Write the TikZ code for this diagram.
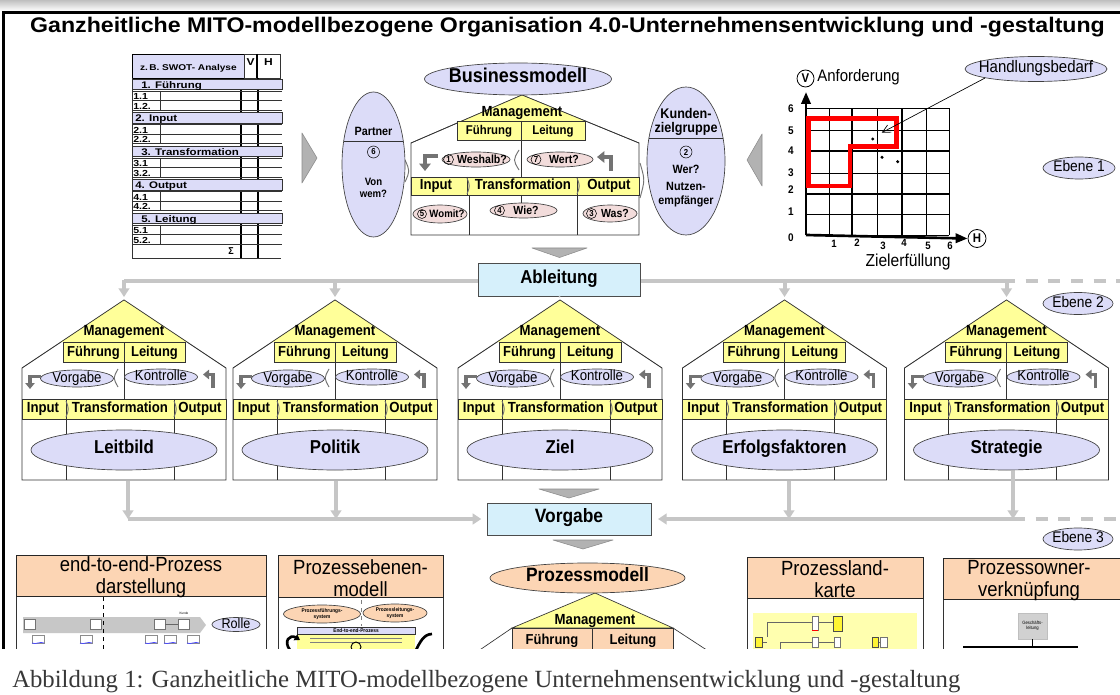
\documentclass[tikz,border=0pt]{standalone}
\usepackage{graphicx}
\usepackage{fontspec}
\setmainfont{Liberation Sans}[FakeStretch=0.9]
\newfontfamily\widefont{Liberation Sans}[FakeStretch=1.2]
\newfontfamily\capfont{Liberation Serif}
\usetikzlibrary{shapes.geometric,arrows.meta}
\definecolor{lav}{RGB}{220,220,248}
\definecolor{yel}{RGB}{255,255,153}
\definecolor{pinkc}{RGB}{242,220,219}
\definecolor{orng}{RGB}{252,213,180}
\definecolor{lblue}{RGB}{214,240,251}
\definecolor{lgray}{RGB}{198,198,198}
\definecolor{chev}{RGB}{178,178,178}
\definecolor{paley}{RGB}{255,255,175}
\newcommand\fs[1]{\fontsize{#1}{\dimexpr #1pt*6/5\relax}\selectfont}
\tikzset{
  hl/.style={draw=black!80, line width=0.5pt},
  ellbox/.style 2 args={ellipse, draw=black!75, line width=0.5pt, minimum width=#1*0.75pt, minimum height=#2*0.75pt, inner sep=0pt},
  lavell/.style 2 args={ellbox={#1}{#2}, fill=lav},
  pinkell/.style 2 args={ellbox={#1}{#2}, fill=pinkc},
  orell/.style 2 args={ellbox={#1}{#2}, fill=orng},
  tx/.style={inner sep=0pt, font=\fs{#1}\bfseries, text height=0.72em, text depth=0.16em},
  tr/.style={inner sep=0pt, font=\fs{#1}, text height=0.72em, text depth=0.16em},
  tw/.style={inner sep=0pt, font=\fs{#1}\widefont\bfseries, text height=0.72em, text depth=0.16em},
  gl/.style={draw=lgray, line width=3pt},
  garrow/.style={gl, -{Triangle[length=6.5pt,width=8pt]}},
  chevron/.style={fill=chev, draw=black!45, line width=0.4pt, line join=round},
  bent/.style={draw=black!55, line width=2.8pt, -{Triangle[length=4.5pt,width=7pt]}},
  brk/.style={draw=black!55, line width=0.7pt},
  numc/.style={circle, draw=black, line width=0.4pt, inner sep=0pt, minimum size=#1*0.75pt, font=\fs{6.5}\bfseries},
  hdr/.style={draw=black!85, line width=0.6pt, fill=orng},
  hdrtext/.style={inner sep=0pt, align=center, font=\fontsize{15.4}{16.5}\selectfont},
}
\newcommand\mhouse[3]{%
\begin{scope}[shift={(#2,0)}]
 \coordinate (#1-top) at (0,297);
 \draw[hl, fill=white] (-102,480) -- (-102,368) -- (0,300) -- (102,368) -- (102,480) -- cycle;
 \fill[yel] (0,300) -- (-63,342) -- (63,342) -- cycle;
 \draw[hl] (-102,368) -- (0,300) -- (102,368);
 \node[tx=11] (#1-mg) at (0,332) {Management};
 \draw[hl, fill=yel] (-61,342) rectangle (61,362);
 \draw[hl] (0,342) -- (0,399);
 \node[tx=10.8] (#1-fu) at (-30.5,352.5) {Führung};
 \node[tx=10.8] (#1-le) at (30.5,352.5) {Leitung};
 \node[lavell={73}{17}] (#1-vg) at (-47,378.5) {};
 \node[tr=11] (#1-vgt) at (#1-vg) {Vorgabe};
 \node[lavell={73}{16}] (#1-ko) at (37,377) {};
 \node[tr=11] (#1-kot) at (#1-ko) {Kontrolle};
 \draw[bent] (-83,376.5) -- (-94,376.5) -- (-94,389);
 \draw[bent] (89,388) -- (89,374.5) -- (79,374.5);
 \draw[brk] (-6,369) .. controls (-11,378) .. (-6,387);
 \draw[hl, fill=yel] (-102,399) rectangle (102,419);
 \draw[hl] (-58,399) -- (-58,480) (50,399) -- (50,480);
 \draw[brk] (-58,401) .. controls (-55,409) .. (-58,417);
 \draw[brk] (50,401) .. controls (53,409) .. (50,417);
 \node[tx=11] (#1-in) at (-81,409) {Input};
 \node[tx=11] (#1-tr) at (-4,409) {Transformation};
 \node[tx=11] (#1-ou) at (76,409) {Output};
 \node[lavell={186}{40}] (#1-lb) at (0,450) {};
 \node[tx=14] (#1-lbt) at (#1-lb) {#3};
\end{scope}}
\begin{document}
\begin{tikzpicture}[x=0.75pt,y=-0.75pt]
\useasboundingbox (0,0) rectangle (1120,695);
\fill[white] (0,0) rectangle (1120,695);
\shade[top color=black!25, bottom color=white] (0,0) rectangle (1120,11);
\begin{scope}
\clip (0,0) rectangle (1120,648);
\draw[line width=2pt] (3.5,650) -- (3.5,12.5) -- (1122,12.5);
\node[anchor=base, inner sep=0pt] (title) at (567.5,33) {\resizebox{806pt}{11.5pt}{\bfseries Ganzheitliche MITO-modellbezogene Organisation 4.0-Unternehmensentwicklung und -gestaltung}};

% ---------------- SWOT table
\node[draw=black, line width=0.5pt, fill=lav, minimum width=112*0.75pt, minimum height=24*0.75pt, inner sep=0pt, anchor=north west] (swh) at (132,54) {};
\node[tw=6.3] (swht) at (swh.center) {z.\,B. SWOT- Analyse};
\draw[hl] (244,54) rectangle (280,78);
\draw[line width=1pt] (257,54) -- (257,78);
\node[tw=7.5] (swv) at (250.5,62) {V};
\node[tw=7.5] (swhh) at (268.5,62) {H};
\draw[hl] (132,78) -- (132,258) -- (281,258);
\draw[line width=1.1pt] (241,78) -- (241,258) (258,78) -- (258,258);
\foreach \k/\lab/\lx/\ra/\rb in {0/{1.  Führung}/141/1.1/1.2., 1/{2. Input}/135/2.1/2.2., 2/{3. Transformation}/141/3.1/3.2., 3/{4. Output}/135/4.1/4.2., 4/{5. Leitung}/141/5.1/5.2.}{
  \pgfmathsetmacro\yz{79+33.5*\k}
  \draw[hl, fill=lav] (132,\yz) rectangle (282,\yz+10.5);
  \node[anchor=west, tw=7.2] (swb\k) at (\lx,\yz+5.5) {\lab};
  \draw[hl] (132,\yz+12) -- (282,\yz+12);
  \draw[hl] (132,\yz+21.5) -- (282,\yz+21.5);
  \draw[hl] (132,\yz+31) -- (282,\yz+31);
  \draw[hl] (160,\yz+12) -- (160,\yz+31);
  \node[anchor=west, tw=6.6] (swr\k-a) at (133,\yz+17) {\ra};
  \node[anchor=west, tw=6.6] (swr\k-b) at (133,\yz+26.5) {\rb};
}
\node[tx=7.5] (sigma) at (231,251) {Σ};

% side triangles
\draw[chevron] (302,133) -- (317,158) -- (302,183) -- cycle;
\draw[chevron] (762,134) -- (747,160) -- (762,186) -- cycle;

% ---------------- Business house
\draw[hl, fill=white] (411,235) -- (411,143) -- (522,95) -- (639,143) -- (639,235) -- cycle;
\fill[yel] (522,95) -- (462,121) -- (585,121) -- cycle;
\draw[hl] (411,143) -- (522,95) -- (639,143);
\node[lavell={187}{32}] (bm) at (518,79) {};
\node[tx=15] (bmt) at (bm) {Businessmodell};
\node[tx=11] (bmmg) at (522,113) {Management};
\draw[hl, fill=yel] (457,121) rectangle (585,140);
\draw[hl] (521,121) -- (521,177);
\node[tx=9.5] (bmfu) at (489,130.5) {Führung};
\node[tx=9.5] (bmle) at (553,130.5) {Leitung};
\draw[bent, line width=3.4pt, -{Triangle[length=5.5pt,width=8.5pt]}] (438,156) -- (425,156) -- (425,171);
\draw[bent, line width=3.4pt, -{Triangle[length=5.5pt,width=8.5pt]}] (611,171) -- (611,157) -- (597,157);
\draw[brk] (519,150) .. controls (513,160) .. (519,170);
\node[pinkell={68}{15}] (wes) at (476,159.5) {};
\node[numc=10] (n1) at (448.5,159.5) {1};
\node[tx=8.8] (west) at (482,159.5) {Weshalb?};
\node[pinkell={66}{15}] (wert) at (560,159.5) {};
\node[numc=10] (n7) at (536,159.5) {7};
\node[tx=8.8] (wertt) at (564,159.5) {Wert?};
\draw[hl, fill=yel] (411,177) rectangle (639,195);
\draw[hl] (467,177) -- (467,195) (577,177) -- (577,195);
\draw[brk] (467,178) .. controls (470,186) .. (467,194);
\draw[brk] (577,178) .. controls (580,186) .. (577,194);
\node[tx=11] (bmin) at (436,186) {Input};
\node[tx=11] (bmtr) at (523,186) {Transformation};
\node[tx=11] (bmou) at (609,186) {Output};
\draw[hl] (469,195) -- (469,235) (577,195) -- (577,235) (521,195) -- (521,203);
\draw[brk] (405,160) .. controls (410,171) .. (405,182);
\draw[brk] (640,163) .. controls (645,180) .. (640,198);
\node[pinkell={54}{18}] (womit) at (440,214) {};
\node[numc=9] (n5) at (422,214) {5};
\node[tx=8] (womitt) at (447,214) {Womit?};
\node[pinkell={67}{15}] (wie) at (523.5,210.5) {};
\node[numc=10] (n4) at (499.5,210.5) {4};
\node[tx=8.8] (wiet) at (526,210.5) {Wie?};
\node[pinkell={54}{17}] (was) at (610,213.5) {};
\node[numc=10] (n3) at (591.5,213.5) {3};
\node[tx=8.8] (wast) at (615,213.5) {Was?};
% Partner
\node[lavell={63}{145}] (partner) at (373.5,164.5) {};
\draw[hl] (343.7,141) -- (403.3,141);
\node[tx=9] (partnert) at (373.5,132) {Partner};
\node[numc=12] (n6) at (373.5,152) {6};
\node[tx=8] (von) at (373.5,182) {Von};
\node[tx=8] (wem) at (373.5,194) {wem?};
% Kunden
\node[lavell={78}{148}] (kunden) at (686,161) {};
\draw[hl] (649,138) -- (723,138);
\node[tx=10.5] (kun1) at (686,115) {Kunden-};
\node[tx=10.5] (kun2) at (686,128.5) {zielgruppe};
\node[numc=12] (n2) at (686,152) {2};
\node[tx=9] (wer) at (686,170) {Wer?};
\node[tx=9] (nutz1) at (686,187) {Nutzen-};
\node[tx=9] (nutz2) at (686,201) {empfänger};

% ---------------- chart
\foreach \x in {805.7,829,852.3,877.3,902.3,926.7,949.3} \draw[line width=0.6pt] (\x,108.3) -- (\x,235);
\foreach \y in {108.3,130,150.7,173.3,194,214.3,235} \draw[line width=0.6pt] (805.7,\y) -- (949.3,\y);
\draw[line width=1.6pt] (852.3,108.3) -- (852.3,235) (902.3,108.3) -- (902.3,235) (805.7,150.7) -- (949.3,150.7) (805.7,194) -- (949.3,194);
\node[circle, draw, line width=0.6pt, minimum size=17*0.75pt, inner sep=0pt, font=\fs{9.5}\bfseries] (vc) at (805.5,78.5) {V};
\node[circle, draw, line width=0.6pt, minimum size=18*0.75pt, inner sep=0pt, font=\fs{9.5}\bfseries] (hc) at (977,238.5) {H};
\coordinate (orig) at (806,235);
\draw[line width=2pt, -{Triangle[length=9pt,width=7pt]}] (orig) -- (806,92);
\draw[line width=2pt, -{Triangle[length=9pt,width=7pt]}] (orig) -- (hc.west);
\node[tr=12.5, anchor=west] (anf) at (817,78) {Anforderung};
\node[tr=13] (ziel) at (908,263) {Zielerfüllung};
\foreach \t/\yy in {6/109,5/131,4/151,3/173,2/190,1/212,0/238} \node[tx=8.3] (yl\t) at (791,\yy) {\t};
\foreach \t/\xx/\yy in {1/834/244,2/857/243,3/883/246,4/904/243,5/928/246,6/950/246} \node[tx=8] (xl\t) at (\xx,\yy) {\t};
\draw[red, line width=3.6pt, line join=miter] (808.3,118.3) -- (896.7,118.3) -- (896.7,146.7) -- (850,146.7) -- (850,186) -- (808.3,186) -- cycle;
\fill (872.7,139) circle (1.7) (882,157.3) circle (1.7) (897.7,161.7) circle (1.7);
\node[lavell={142}{25}] (hb) at (1036,69) {};
\node[tr=12.5] (hbt) at (hb) {Handlungsbedarf};
\coordinate (hbtip) at (881.7,132.7);
\draw[line width=0.5pt, -{Straight Barb[length=6pt,width=6pt]}] (hb.190) -- (hbtip);

% Ebene labels
\node[lavell={72}{22}] (eb1) at (1079,168) {};
\node[tr=11.5] (eb1t) at (eb1) {Ebene 1};
\node[lavell={70}{22}] (eb2) at (1078,303.5) {};
\node[tr=11.5] (eb2t) at (eb2) {Ebene 2};
\node[lavell={70}{22}] (eb3) at (1078,539) {};
\node[tr=11.5] (eb3t) at (eb3) {Ebene 3};

% ---------------- Ableitung
\draw[chevron] (532,248) -- (587,248) -- (559.5,257.5) -- cycle;
\draw[gl] (124,281) -- (1003,281);
\draw[gl, dash pattern=on 9pt off 8pt] (1003,281) -- (1120,281);
\node[draw=black!70, line width=0.5pt, fill=lblue, minimum width=162*0.75pt, minimum height=33*0.75pt, inner sep=0pt] (abl) at (559,279.5) {};
\node[tx=14] (ablt) at (abl) {Ableitung};

\mhouse{h1}{124}{Leitbild}
\mhouse{h2}{335}{Politik}
\mhouse{h3}{560}{Ziel}
\mhouse{h4}{784.5}{Erfolgsfaktoren}
\mhouse{h5}{1006.5}{Strategie}

\draw[lgray, line width=1.2pt] (abl.south) -- (h3-top);
\foreach \h in {h1,h2,h4,h5} \draw[garrow] (\h-top |- abl) -- (\h-top);

% ---------------- Vorgabe
\node[draw=black!70, line width=0.5pt, fill=lblue, minimum width=164*0.75pt, minimum height=32*0.75pt, inner sep=0pt] (vg) at (569,519) {};
\node[tx=14.5] (vgt) at (vg) {Vorgabe};
\coordinate (d1) at (128,481);
\coordinate (d2) at (336,481);
\coordinate (d4) at (789,481);
\coordinate (d5) at (1013,471);
\draw[gl, -{Triangle[length=6.5pt,width=8pt]}, shorten >=4pt] (d1 |- vg) -- (vg.west);
\draw[gl, -{Triangle[length=6.5pt,width=8pt]}, shorten >=5pt] (d5 |- vg) -- (vg.east);
\draw[gl, dash pattern=on 9pt off 8pt] (d5 |- vg) -- (1120,519);
\foreach \d in {d1,d2,d4,d5} \draw[garrow] (\d) -- (\d |- vg);
\draw[chevron] (539,489) -- (599,489) -- (569,498) -- cycle;
\draw[chevron] (553,540) -- (613,540) -- (583,549) -- cycle;

% ---------------- Prozessmodell
\draw[hl] (465,660) -- (512,628) (673,628) -- (722,660);
\draw[hl, fill=yel] (595,593) -- (512,628) -- (673,628) -- cycle;
\node[orell={195}{30}] (pm) at (587.5,578) {};
\node[tx=14.5] (pmt) at (pm) {Prozessmodell};
\node[tx=11] (pmmg) at (595,621) {Management};
\draw[hl, fill=orng] (512,628) rectangle (673,660);
\draw[hl] (592,628) -- (592,660);
\node[tx=10.8] (pmfu) at (552,641) {Führung};
\node[tx=10.8] (pmle) at (633,641) {Leitung};

% ---------------- bottom boxes
% A
\draw[hl, fill=white] (16,596) rectangle (266,660);
\draw[hdr] (16,555) rectangle (266,596);
\node[hdrtext] (e2e) at (141,577.5) {end-to-end-Prozess\\darstellung};
\fill[black!22] (23,617) -- (200,617) -- (206,625) -- (200,633) -- (23,633) -- cycle;
\foreach \bx in {24,90,154,178} \draw[black!55, line width=0.3pt, fill=white] (\bx,619.5) rectangle ++(11,10);
\draw[black!60, line width=0.4pt] (165,624) -- (178,624);
\node[inner sep=0pt, font=\fs{2.5}] (kunde) at (184,613) {Kunde};
\foreach \dx in {32,80,145,164,187} {
  \draw[black!45, line width=0.3pt, fill=white] (\dx,635) rectangle ++(12,8);
  \draw[blue!70, line width=0.6pt] (\dx,643) .. controls (\dx+4,645) and (\dx+8,641) .. (\dx+12,643);
}
\draw[dashed, line width=0.6pt] (103,597) -- (103,660);
\node[lavell={48}{14}] (rolle) at (236,624.5) {};
\node[tr=10.5] (rollet) at (rolle) {Rolle};
% B
\draw[hl, fill=white] (278,597) rectangle (443,660);
\draw[hdr] (278,555) rectangle (443,597);
\node[hdrtext] (peb) at (360.5,578) {Prozessebenen-\\modell};
\node[orell={77}{18}] (pfs) at (322,614) {};
\node[inner sep=0pt, align=center, font=\fontsize{4}{4.3}\selectfont\bfseries] (pfst) at (pfs) {Prozessführungs-\\system};
\node[orell={64}{18}] (pls) at (395,613) {};
\node[inner sep=0pt, align=center, font=\fontsize{4}{4.3}\selectfont\bfseries] (plst) at (pls) {Prozessleitungs-\\system};
\draw[black!50, dashed, line width=0.4pt] (361,600) -- (361,626);
\fill[yel] (297,634) rectangle (415,660);
\draw[hl, fill=lav] (297,627) rectangle (415,634);
\node[inner sep=0pt, font=\fs{4}\bfseries] (e2ep) at (356,630.5) {End-to-end-Prozess};
\draw[black!50, line width=0.3pt] (310,638) -- (402,638) (310,642) -- (402,642);
\draw[line width=0.7pt] (356,647) circle (5);
\draw[line width=2pt, -{Triangle[length=4pt,width=5pt]}] (290,650) .. controls (283,641) and (290,634) .. (300,640);
\draw[line width=2pt] (432,634) .. controls (424,634) and (420,642) .. (416,650);
% D
\draw[hl, fill=white] (747,598) rectangle (923,660);
\draw[hdr] (747,557) rectangle (923,598);
\node[hdrtext] (plk) at (835,579.5) {Prozessland-\\karte};
\fill[paley] (753,613) rectangle (917,660);
\draw[black!60, line width=0.4pt] (767,637) -- (767,622) -- (812,622) (780,650) -- (780,642) -- (812,642) (818,622) -- (833,622) (818,642) -- (834,642) (762,642) -- (767,642) (878,642) -- (880,642);
\draw[black!55, fill=white, line width=0.3pt] (812,616) rectangle (818,630);
\draw[red, line width=0.9pt] (812,630.5) -- (818,630.5);
\draw[black!70, fill=yellow!80, line width=0.4pt] (833,616) rectangle (842,631);
\draw[black!55, fill=white, line width=0.3pt] (812,637) rectangle (818,647) (834,637) rectangle (840,647) (880,637) rectangle (887,647);
\draw[black!70, fill=yellow!80, line width=0.3pt] (755,637) rectangle (762,647) (872,637) rectangle (878,647);
% E
\draw[hl, fill=white] (943,599) rectangle (1130,660);
\draw[hdr] (943,558) rectangle (1130,599);
\node[hdrtext] (pov) at (1029,580.5) {Prozessowner-\\verknüpfung};
\node[draw=black!25, fill=black!18, minimum width=29*0.75pt, minimum height=26*0.75pt, inner sep=0pt] (gsl) at (1032.5,626) {};
\node[inner sep=0pt, align=center, font=\fontsize{3.5}{4}\selectfont] (gslt) at (gsl) {Geschäfts-\\leitung};
\coordinate (gsb) at (1032.5,647);
\draw[line width=0.6pt] (gsl.south) -- (gsb);
\draw[line width=0.8pt] (963,647) -- (1078,647);
\end{scope}

% caption
\node[anchor=base west, inner sep=0pt, text=black!78] (cap) at (12,687) {\resizebox{711pt}{!}{\capfont Abbildung 1: Ganzheitliche MITO-modellbezogene Unternehmensentwicklung und -gestaltung}};
\end{tikzpicture}
\end{document}
